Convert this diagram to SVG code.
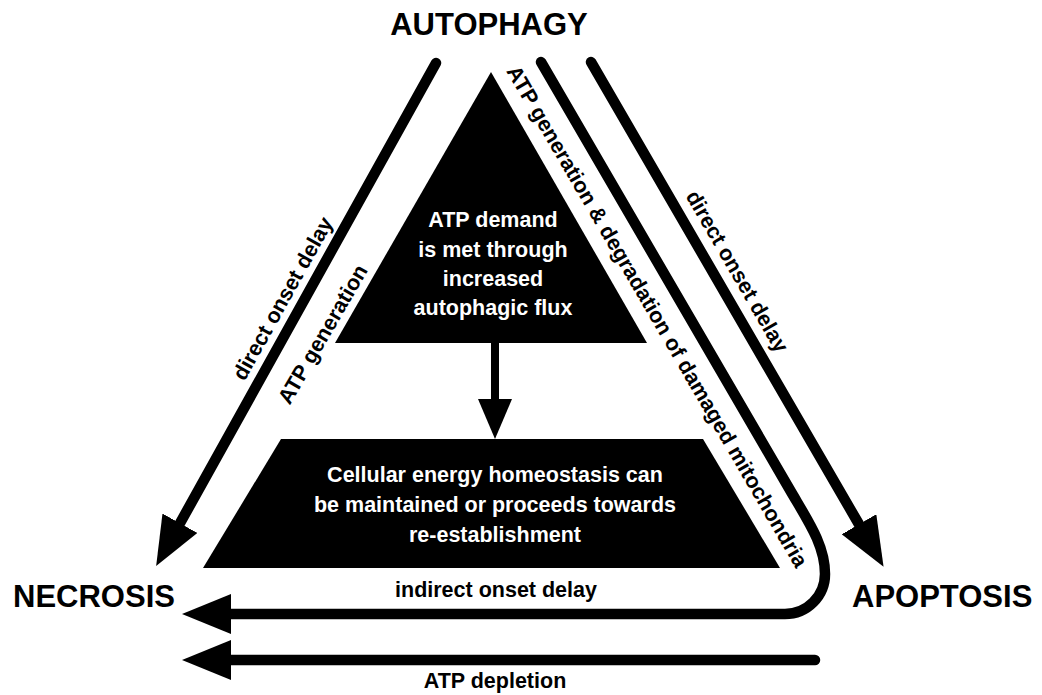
<svg xmlns="http://www.w3.org/2000/svg" width="1042" height="695" viewBox="0 0 1042 695">
<style>
.big{font-family:"Liberation Sans",Arial,sans-serif;font-weight:bold;font-size:31px;fill:#000}
.lbl{font-family:"Liberation Sans",Arial,sans-serif;font-weight:bold;font-size:21.5px;fill:#000}
.wt{font-family:"Liberation Sans",Arial,sans-serif;font-weight:bold;font-size:21.5px;fill:#fff;text-anchor:middle}
.conn{fill:none;stroke:#000;stroke-width:10.5;stroke-linecap:round;stroke-linejoin:round}
</style>
<defs>
<marker id="ah" markerUnits="userSpaceOnUse" markerWidth="50" markerHeight="40" viewBox="0 0 50 40" refX="2" refY="20" orient="auto"><path d="M0,0 L49,20 L0,40 Z" fill="#000"/></marker>
<marker id="ahs" markerUnits="userSpaceOnUse" markerWidth="40" markerHeight="34" viewBox="0 0 40 34" refX="1" refY="17" orient="auto"><path d="M0,0 L40,17 L0,34 Z" fill="#000"/></marker>
</defs>
<rect width="1042" height="695" fill="#fff"/>

<g id="autophagy"><text class="big" x="489" y="35" text-anchor="middle" font-size="32">AUTOPHAGY</text></g>
<g id="necrosis"><text class="big" x="13" y="607">NECROSIS</text></g>
<g id="apoptosis"><text class="big" x="852" y="607">APOPTOSIS</text></g>

<g id="atp-demand">
<polygon points="491,72 647,343 335,343" fill="#000"/>
<text class="wt" x="493" y="227">ATP demand</text>
<text class="wt" x="493" y="257">is met through</text>
<text class="wt" x="493" y="286">increased</text>
<text class="wt" x="493" y="315">autophagic flux</text>
</g>

<g id="homeostasis">
<polygon points="281,439 703,439 780,568 203,568" fill="#000"/>
<text class="wt" x="495" y="482">Cellular energy homeostasis can</text>
<text class="wt" x="495" y="512">be maintained or proceeds towards</text>
<text class="wt" x="495" y="542">re-establishment</text>
</g>

<g id="connectors">
<path class="conn" d="M436,63 L179,525" marker-end="url(#ah)"/>
<path class="conn" d="M591,62 L860,526" marker-end="url(#ah)"/>
<path class="conn" d="M541,62 L790,490 C808,521 825,545 825,574 A40,40 0 0 1 785,614 L229,614" marker-end="url(#ah)"/>
<path class="conn" d="M815,660 L229,660" marker-end="url(#ah)"/>
<path d="M495,343 L495,400" stroke="#000" stroke-width="8" fill="none" marker-end="url(#ahs)"/>
<text class="lbl" x="289" y="302" text-anchor="middle" transform="rotate(-60.8 289 302)">direct onset delay</text>
<text class="lbl" x="329" y="338" text-anchor="middle" transform="rotate(-59.9 329 338)">ATP generation</text>
<text class="lbl" x="731" y="275" text-anchor="middle" transform="rotate(59.9 731 275)">direct onset delay</text>
<text class="lbl" x="651" y="320" text-anchor="middle" transform="rotate(59.8 651 320)">ATP generation &amp; degradation of damaged mitochondria</text>
<text class="lbl" x="496" y="597" text-anchor="middle">indirect onset delay</text>
<text class="lbl" x="495" y="688" text-anchor="middle">ATP depletion</text>
</g>
</svg>
